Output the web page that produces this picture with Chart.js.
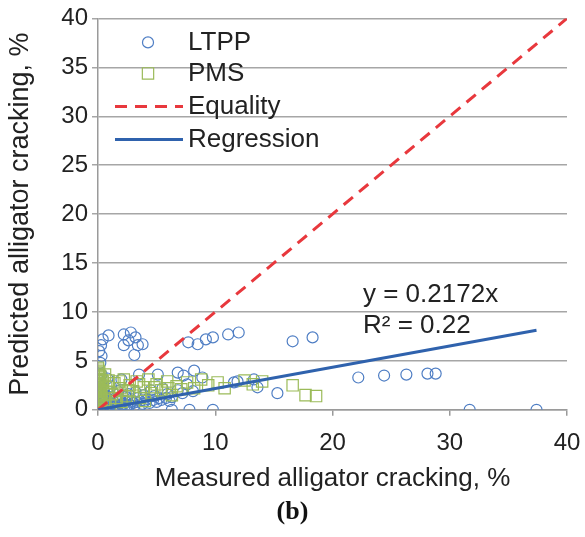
<!DOCTYPE html>
<html>
<head>
<meta charset="utf-8">
<script src="https://cdn.jsdelivr.net/npm/chart.js@4.4.0/dist/chart.umd.min.js"></script>
<style>
  html, body { margin: 0; padding: 0; background: #ffffff; }
  #wrap { width: 585px; height: 537px; }
</style>
</head>
<body>
<div id="wrap"><canvas id="chart" width="585" height="537"></canvas></div>
<script>
// Measured vs predicted alligator cracking (%), LTPP sections
const ltppPoints = [
  [0.2, 4.8], [0.3, 5.5], [0.26, 6.6], [0.4, 7.2], [0.9, 7.6], [0.1, 6.0],
  [2.2, 7.7], [2.8, 7.9], [3.2, 7.4], [2.6, 7.1], [2.2, 6.6], [3.4, 6.6], [3.1, 5.6], [3.8, 6.7],
  [7.7, 6.9], [8.5, 6.7], [9.2, 7.2], [9.8, 7.4], [11.1, 7.7], [12.0, 7.9],
  [16.6, 7.0], [18.3, 7.4],
  [3.5, 3.6], [5.1, 3.6], [6.8, 3.8], [7.3, 3.5], [8.2, 4.0], [8.9, 3.3], [2.0, 3.1], [1.7, 1.9],
  [11.6, 2.8], [11.9, 2.9], [13.3, 3.1], [13.6, 2.3], [15.3, 1.7],
  [22.2, 3.3], [24.4, 3.5], [26.3, 3.6], [28.1, 3.7], [28.8, 3.7],
  [3.5, 0], [6.3, 0], [7.8, 0], [9.8, 0], [31.7, 0], [37.4, 0],
  [0, 0], [0.1, 0.2], [0.2, 0.1], [0.3, 0.4], [0.5, 0.3], [0.6, 0.8], [0.8, 0.5], [1.0, 0.2],
  [1.0, 1.0], [1.2, 0.6], [1.4, 0.3], [1.5, 1.2], [1.7, 0.8], [2.0, 0.5], [2.1, 1.4], [2.3, 0.9],
  [2.5, 0.4], [2.6, 1.6], [2.8, 1.1], [3.0, 0.7], [3.2, 1.8], [3.4, 1.2], [3.6, 0.9], [3.9, 1.5],
  [4.2, 1.1], [4.5, 2.0], [4.8, 1.4], [5.2, 1.2], [5.5, 2.2], [5.9, 1.6], [6.3, 1.3], [6.8, 2.0],
  [7.2, 1.7], [7.6, 2.6], [8.1, 1.9], [0.1, 1.5], [0.2, 2.2], [0.1, 3.0], [0.3, 3.6], [0.2, 1.0],
  [0.5, 2.0], [1.1, 2.4], [0.8, 3.2],
  [0.4, 0.1], [0.7, 0.2], [0.9, 0.0], [1.3, 0.1], [1.6, 0.4], [1.9, 0.2], [2.2, 0.6], [2.4, 0.1],
  [2.7, 0.5], [2.9, 0.9], [3.1, 0.4], [3.3, 0.8], [3.8, 0.6], [4.0, 0.9], [4.4, 0.7], [4.7, 1.0],
  [5.0, 0.8], [5.4, 1.0], [5.8, 1.2], [6.1, 0.9], [0.6, 0.5], [1.1, 0.7], [1.8, 1.1], [2.4, 1.3],
  [0.3, 0.9], [0.7, 1.3], [1.3, 1.7], [0.5, 1.5]
];

// Measured vs predicted alligator cracking (%), PMS sections
const pmsPoints = [
  [0, 0.1], [0, 0.3], [0, 0.5], [0, 0.7], [0, 0.9], [0, 1.1], [0, 1.3], [0, 1.5], [0, 1.7],
  [0, 1.9], [0, 2.1], [0, 2.3], [0, 2.5], [0, 2.7], [0, 2.9], [0, 3.1], [0, 3.3], [0, 3.5],
  [0, 3.7], [0, 3.9], [0, 4.1], [0, 4.3],
  [0.1, 0.3], [0.1, 0.8], [0.1, 1.2], [0.1, 1.6], [0.1, 2.1], [0.1, 2.6], [0.1, 3.0], [0.1, 3.5],
  [0.1, 3.9], [0.2, 0.7], [0.2, 1.6], [0.2, 2.5], [0.2, 3.4], [0.3, 1.1], [0.3, 2.0], [0.3, 3.0],
  [0.5, 1.0], [0.7, 2.3], [0.9, 3.0], [1.2, 1.6], [1.4, 2.7], [1.6, 0.9], [1.9, 2.2], [2.2, 3.1],
  [2.4, 1.4], [2.7, 2.5], [3.0, 1.9], [3.3, 2.9], [3.6, 1.2], [3.9, 2.3], [4.3, 3.1], [4.6, 1.7],
  [5.0, 2.6], [5.4, 2.0], [5.9, 2.9], [6.3, 1.5], [6.7, 2.4], [7.1, 2.1], [7.6, 2.8], [8.2, 2.2],
  [8.8, 3.1], [9.4, 2.5], [10.2, 2.8], [10.8, 2.2], [12.5, 3.0], [13.2, 2.6], [14.0, 2.9],
  [16.6, 2.5], [17.7, 1.5], [18.6, 1.4], [1.0, 0.5], [2.0, 0.8], [4.0, 0.9], [0.4, 2.9], [0.6, 3.6],
  [0.8, 1.8], [1.5, 1.2], [2.6, 2.0], [3.5, 2.6], [4.8, 2.3], [6.0, 2.2], [1.8, 2.9], [0.5, 0.4]
];

// Reference lines
const equalityLine = [[0, 0], [40, 40]];
const regressionSlope = 0.2172;
const regressionRange = [0, 37.4];
const rSquared = 0.22;

// Axis ranges and tick steps
const axisMin = 0;
const axisMax = 40;
const xTickStep = 10;
const yTickStep = 5;

const seriesLabels = ['LTPP', 'PMS', 'Equality', 'Regression'];

const FONT = '"Liberation Sans", Arial, Helvetica, sans-serif';
const toXY = arr => arr.map(p => ({ x: p[0], y: p[1] }));
const regressionLine = regressionRange.map(x => ({ x: x, y: regressionSlope * x }));

// In-plot legend drawn from the dataset styles
const insideLegend = {
  id: 'insideLegend',
  afterDatasetsDraw(chart) {
    const { ctx, chartArea } = chart;
    const ds = chart.data.datasets;
    const left = chartArea.left;
    const top = chartArea.top;
    const rows = [24, 55, 88, 121];
    const markX = left + 50;
    const textX = left + 90;
    ctx.save();
    ctx.font = '26px ' + FONT;
    ctx.textBaseline = 'middle';
    ctx.textAlign = 'left';
    ds.forEach((d, i) => {
      const y = top + rows[i];
      ctx.save();
      ctx.strokeStyle = d.borderColor;
      ctx.fillStyle = 'rgba(0,0,0,0)';
      ctx.lineWidth = d.borderWidth;
      if (d.showLine) {
        ctx.setLineDash(d.borderDash || []);
        ctx.beginPath();
        ctx.moveTo(left + 17, y);
        ctx.lineTo(left + 85, y);
        ctx.stroke();
      } else {
        Chart.helpers.drawPoint(ctx, {
          pointStyle: d.pointStyle,
          radius: d.pointRadius,
          borderWidth: d.pointBorderWidth
        }, markX, y);
      }
      ctx.restore();
      ctx.fillStyle = '#222';
      ctx.fillText(d.label, textX, y);
    });
    ctx.restore();
  }
};

// Regression equation text
const equationText = {
  id: 'equationText',
  afterDatasetsDraw(chart) {
    const { ctx, scales } = chart;
    const x = scales.x.getPixelForValue(22.6);
    const y1 = scales.y.getPixelForValue(11.7);
    const y2 = scales.y.getPixelForValue(8.6);
    ctx.save();
    ctx.font = '26px ' + FONT;
    ctx.fillStyle = '#222';
    ctx.textBaseline = 'middle';
    ctx.textAlign = 'left';
    ctx.fillText('y = ' + regressionSlope.toFixed(4) + 'x', x, y1);
    ctx.fillText('R\u00B2 = ' + rSquared.toFixed(2), x, y2);
    ctx.restore();
  }
};

new Chart(document.getElementById('chart'), {
  type: 'scatter',
  data: {
    datasets: [
      {
        label: seriesLabels[0],
        data: toXY(ltppPoints),
        pointStyle: 'circle',
        pointRadius: 5.5,
        pointBorderWidth: 1.2,
        borderWidth: 1.2,
        borderColor: '#4f7ec4',
        backgroundColor: 'rgba(0,0,0,0)',
        order: 4
      },
      {
        label: seriesLabels[1],
        data: toXY(pmsPoints),
        pointStyle: 'rect',
        pointRadius: 8,
        pointBorderWidth: 1.2,
        borderWidth: 1.2,
        borderColor: '#9bbb59',
        backgroundColor: 'rgba(0,0,0,0)',
        order: 3
      },
      {
        label: seriesLabels[2],
        data: toXY(equalityLine),
        showLine: true,
        pointRadius: 0,
        borderColor: '#e8383d',
        borderWidth: 3,
        borderDash: [12, 8],
        order: 2
      },
      {
        label: seriesLabels[3],
        data: regressionLine,
        showLine: true,
        pointRadius: 0,
        borderColor: '#2f62ad',
        borderWidth: 3,
        order: 1
      }
    ]
  },
  options: {
    responsive: false,
    animation: false,
    devicePixelRatio: 1,
    layout: { padding: { top: 17, right: 0, left: 0, bottom: 0 } },
    plugins: {
      legend: { display: false },
      tooltip: { enabled: false },
      title: {
        display: true,
        position: 'bottom',
        text: '(b)',
        color: '#111',
        font: { family: '"Liberation Serif", "Times New Roman", serif', size: 26, weight: 'bold' },
        padding: { top: 2, bottom: 9 }
      }
    },
    scales: {
      x: {
        type: 'linear',
        min: axisMin,
        max: axisMax,
        afterFit(scale) {
          scale.height = 85;
          scale.paddingLeft = 0;
          scale.paddingRight = 18;
        },
        ticks: {
          stepSize: xTickStep,
          color: '#222',
          padding: 13,
          font: { family: FONT, size: 24 }
        },
        grid: { drawOnChartArea: false, drawTicks: true, tickLength: 6, color: '#9a9a9a', lineWidth: 1.5 },
        border: { display: true, color: '#9a9a9a', width: 1.5 },
        title: {
          display: true,
          text: 'Measured alligator cracking, %',
          color: '#222',
          font: { family: FONT, size: 26 },
          padding: { top: 0, bottom: 0 }
        }
      },
      y: {
        type: 'linear',
        min: axisMin,
        max: axisMax,
        afterFit(scale) { scale.width = 98; },
        ticks: {
          stepSize: yTickStep,
          color: '#222',
          padding: 4,
          font: { family: FONT, size: 24 }
        },
        grid: { color: '#a6a6a6', lineWidth: 1.5, drawTicks: true, tickLength: 6 },
        border: { display: true, color: '#9a9a9a', width: 1.5 },
        title: {
          display: true,
          text: 'Predicted alligator cracking, %',
          color: '#222',
          font: { family: FONT, size: 27 },
          padding: { top: 4, bottom: 0 }
        }
      }
    }
  },
  plugins: [insideLegend, equationText]
});
</script>
</body>
</html>
